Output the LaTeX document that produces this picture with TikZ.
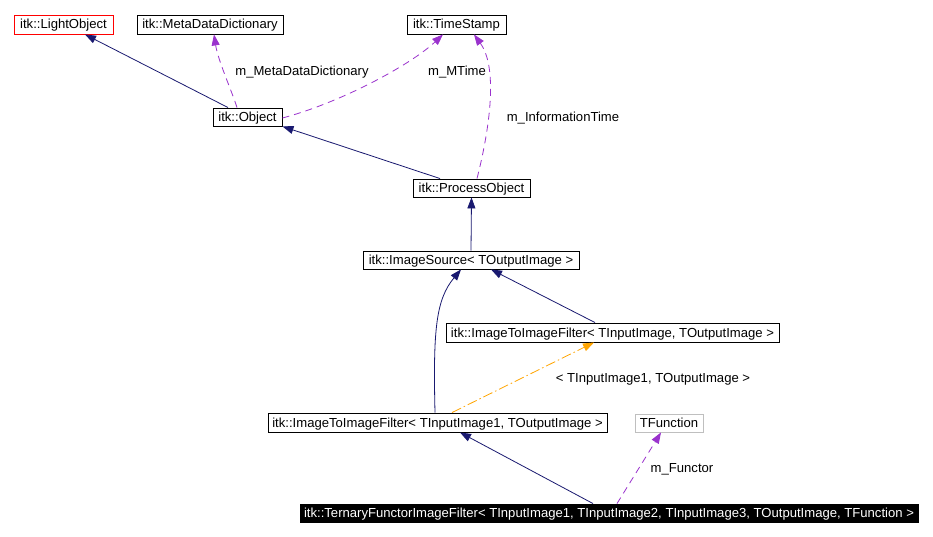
\documentclass[tikz,border=0pt]{standalone}
\usepackage{fontspec}
\setmainfont{Liberation Sans}
\usetikzlibrary{arrows.meta,calc}
\definecolor{navy}{HTML}{191970}
\definecolor{purp}{HTML}{9A32CD}
\definecolor{orng}{HTML}{FFA500}
\definecolor{gbord}{HTML}{BFBFBF}
\begin{document}
\begin{tikzpicture}[x=1pt,y=-1pt,
  cls/.style={draw=black,fill=white,line width=0.9pt,inner sep=0pt,minimum height=19pt,text height=9pt,text depth=0pt,font=\fontsize{13.1}{15}\selectfont,anchor=center},
  lbl/.style={inner sep=0pt,text height=9pt,text depth=0pt,font=\fontsize{13.1}{15}\selectfont,anchor=center},
  inh/.style={draw=navy,line width=0.8pt,-{Triangle[length=11pt,width=8pt]}},
  use/.style={draw=purp,line width=0.8pt,dash pattern=on 7pt off 5pt,-{Triangle[length=11pt,width=8pt]}},
  tpl/.style={draw=orng,line width=0.8pt,dash pattern=on 10pt off 3pt on 1.5pt off 3pt,-{Triangle[length=11pt,width=8pt]}}]
\useasboundingbox (0,0) rectangle (933,537);
\fill[white] (0,0) rectangle (933,537);
% nodes
\node[cls,draw=red,minimum width=99pt] (lo) at (63.5,24.5) {itk::LightObject};
\node[cls,minimum width=146pt] (mdd) at (210,24.5) {itk::MetaDataDictionary};
\node[cls,minimum width=99pt] (ts) at (456.5,24.5) {itk::TimeStamp};
\node[cls,minimum width=69pt,minimum height=18pt] (obj) at (247.5,117) {itk::Object};
\node[cls,minimum width=117pt,minimum height=18pt] (po) at (471.5,188) {itk::ProcessObject};
\node[cls,minimum width=216pt,minimum height=18pt] (is) at (471,260) {itk::ImageSource< TOutputImage >};
\node[cls,minimum width=333pt] (iif) at (612.5,332.5) {itk::ImageToImageFilter< TInputImage, TOutputImage >};
\node[cls,minimum width=339pt] (iif1) at (437.5,422.5) {itk::ImageToImageFilter< TInputImage1, TOutputImage >};
\node[cls,draw=gbord,minimum width=68pt,minimum height=18pt] (tf) at (669,423) {TFunction};
\node[cls,fill=black,text=white,minimum width=618pt,minimum height=18pt] (tern) at (609,513) {itk::TernaryFunctorImageFilter< TInputImage1, TInputImage2, TInputImage3, TOutputImage, TFunction >};
% edges
\draw[inh] ([xshift=-19.5pt]obj.north) -- ([xshift=21.5pt]lo.south);
\draw[use] ([xshift=-10.5pt]obj.north) .. controls +(-5,-16) and +(4,26) .. ([xshift=4pt]mdd.south);
\draw[use] ([yshift=-1pt]obj.east) .. controls +(57,-15) and +(-33,31) .. ([xshift=-13.5pt]ts.south);
\draw[use] ([xshift=5.5pt]po.north) .. controls +(10,-39) and +(26,36) .. ([xshift=17.5pt]ts.south);
\draw[inh] ([xshift=-31.5pt]po.north) -- (obj.south east);
\draw[inh] (is.north) -- (po.south);
\draw[inh] ([xshift=-17.5pt]iif.north) -- ([xshift=20pt]is.south);
\draw[inh] ([xshift=-2.5pt]iif1.north) .. controls +(-2,-83) and +(-25,30) .. ([xshift=-10pt]is.south);
\draw[tpl] ([xshift=14.5pt]iif1.north) -- ([xshift=-18.5pt]iif.south);
\draw[inh] ([xshift=-16pt]tern.north) -- ([xshift=22.5pt]iif1.south);
\draw[use] ([xshift=8pt]tern.north) -- ([xshift=-8pt]tf.south);
% labels
\node[lbl] (l1) at (302,71) {m\_MetaDataDictionary};
\node[lbl] (l2) at (457,71) {m\_MTime};
\node[lbl] (l3) at (563,117) {m\_InformationTime};
\node[lbl] (l4) at (653,378) {< TInputImage1, TOutputImage >};
\node[lbl] (l5) at (682,468) {m\_Functor};
\end{tikzpicture}
\end{document}
